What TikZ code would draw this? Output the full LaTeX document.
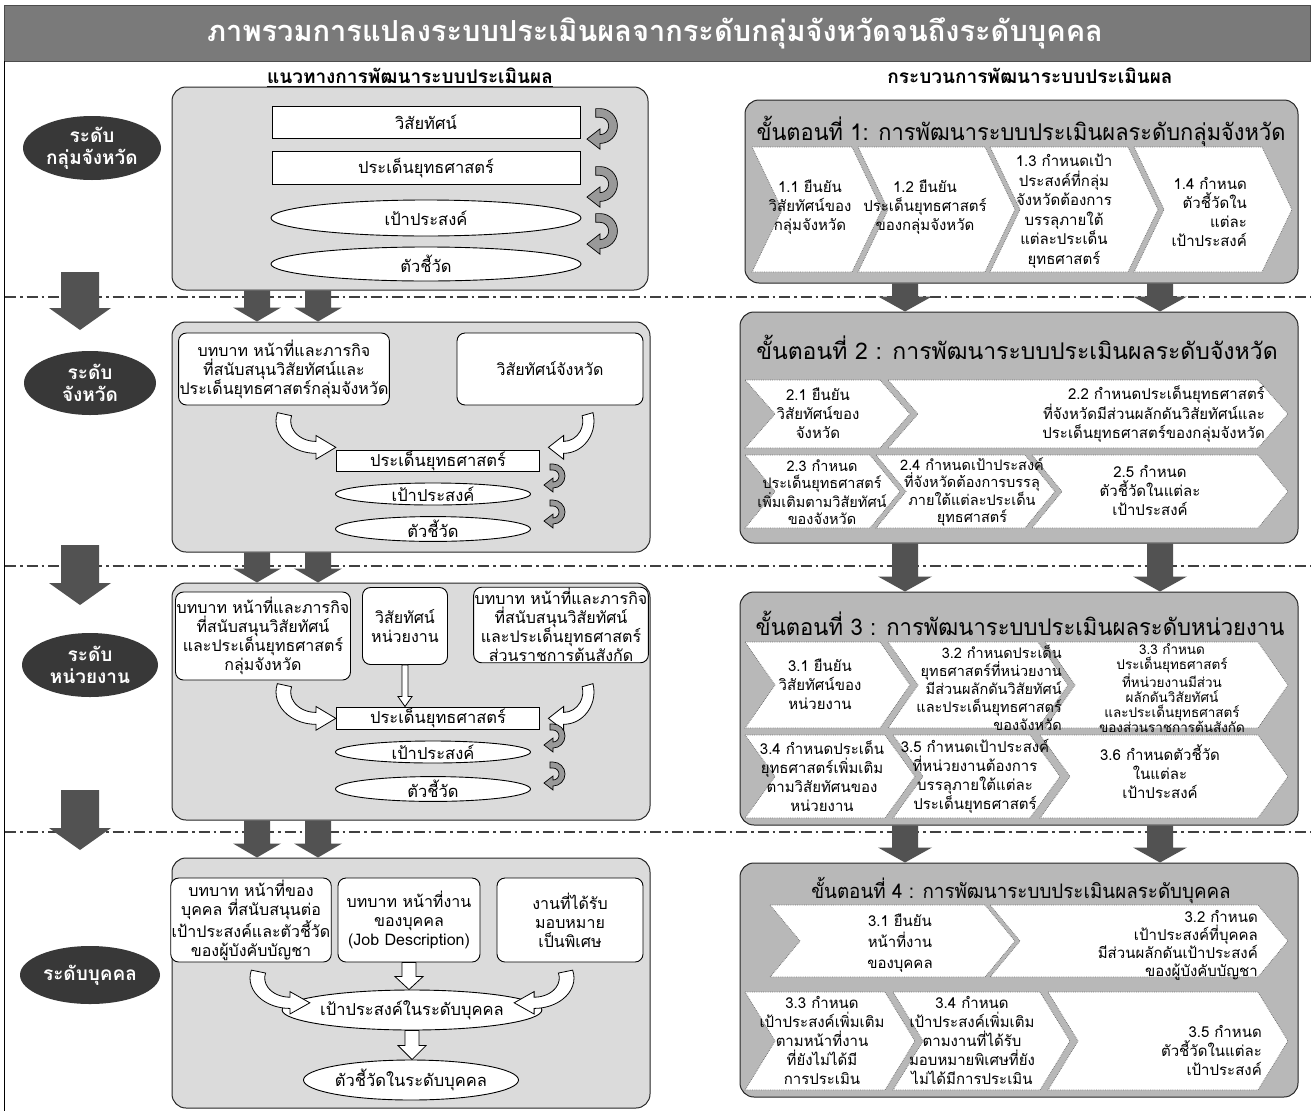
\documentclass[tikz,border=0pt]{standalone}
\usepackage{fontspec}
\setmainfont[Script=Thai]{Loma}
\usetikzlibrary{shapes.geometric,fit,calc}

\newcommand\vblock[6]{\path[#1] let \p1=(#2), \p2=(#3) in
  (\x1-#4,\y1) -- (\x1+#4,\y1) -- (\x1+#4,\y2+#6) -- (\x1+#5,\y2+#6) -- (\x1,\y2)
  -- (\x1-#5,\y2+#6) -- (\x1-#4,\y2+#6) -- cycle;}
\newcommand\chevron[5]{\draw[chev] (#1,#3) -- (#2,#3) -- ({#2+#5},{(#3+#4)/2}) -- (#2,#4)
  -- (#1,#4) -- ({#1+#5},{(#3+#4)/2}) -- cycle;}

\tikzset{
  lvl/.style={ellipse, fill=black!78, text=white, font=\bfseries\fontsize{19}{22}\selectfont,
    align=center, inner sep=0pt},
  lpanel/.style={draw=black!85, line width=1pt, rounded corners=14pt, fill=black!14, inner sep=0pt},
  rpanel/.style={draw=black!85, line width=1pt, rounded corners=14pt, fill=black!28, inner sep=0pt},
  tbox/.style={draw, line width=0.9pt, fill=white, rounded corners=8pt, align=center,
    inner sep=1pt, font=\fontsize{16}{19}\selectfont},
  srect/.style={draw, line width=0.9pt, fill=white, inner sep=0pt, font=\fontsize{16.5}{19}\selectfont},
  sell/.style={ellipse, draw, line width=0.9pt, fill=white, inner sep=0pt, font=\fontsize{16.5}{19}\selectfont},
  chev/.style={fill=white, draw=black!55, densely dotted, line width=0.8pt},
  ctext/.style={align=center, inner sep=0pt, font=\fontsize{15}{19}\selectfont},
  rtext/.style={align=right, inner sep=0pt, font=\fontsize{15}{19}\selectfont},
  stitle/.style={inner sep=0pt, font=\fontsize{23}{26}\selectfont},
  hdr/.style={inner sep=0pt, font=\bfseries\fontsize{19}{22}\selectfont},
  dashdot/.style={draw=black!75, line width=1.4pt, dash pattern=on 11pt off 4pt on 2.5pt off 4pt},
  gblock/.style={fill=black!68},
  wblock/.style={draw, line width=0.8pt, fill=white},
  hookpic/.pic={\filldraw[fill=black!40, draw=black, line width=0.7pt]
     (-3,-12) -- (0,-12) arc[start angle=-90, end angle=90, radius=12] -- (0,16) -- (-9,9)
     -- (0,2) -- (0,6) arc[start angle=90, end angle=-90, radius=6] -- (-3,-6) -- cycle;},
  bendpic/.pic={\filldraw[fill=white, draw=black, line width=0.8pt]
     (38,0) ++(195:38) arc[start angle=195, end angle=90, radius=38] -- ++(0,7) -- (57,31)
     -- (38,17) -- (38,24) arc[start angle=90, end angle=195, radius=24] -- cycle;}
}

\begin{document}
\begin{tikzpicture}[x=1pt,y=-1pt]
\useasboundingbox (0,0) rectangle (1311,1111);
\fill[white] (0,0) rectangle (1311,1111);

% title
\node[fill=black!52, draw=black!70, minimum width=1306pt, minimum height=56pt, inner sep=0pt] (tbar) at (657,33) {};
\node[text=white, inner sep=0pt, font=\bfseries\fontsize{29}{32}\selectfont] (title) at (655,33)
  {ภาพรวมการแปลงระบบประเมินผลจากระดับกลุ่มจังหวัดจนถึงระดับบุคคล};
\draw[line width=1pt] (4,61) -- (4,1111);

% headers
\node[hdr] (hl) at (410,76) {แนวทางการพัฒนาระบบประเมินผล};
\draw[line width=1pt] ([yshift=-3pt]hl.base west) -- ([yshift=-3pt]hl.base east);
\node[hdr] (hr) at (1030,76) {กระบวนการพัฒนาระบบประเมินผล};

% dash-dot separators
\draw[dashdot] (5,297) -- (1311,297);
\draw[dashdot] (5,566) -- (1311,566);
\draw[dashdot] (5,832) -- (1311,832);

% level ovals
\node[lvl, minimum width=138pt, minimum height=64pt] (lv1) at (92,148) {ระดับ\\กลุ่มจังหวัด};
\node[lvl, minimum width=132pt, minimum height=64pt] (lv2) at (90,383) {ระดับ\\จังหวัด};
\node[lvl, minimum width=136pt, minimum height=64pt] (lv3) at (90,665) {ระดับ\\หน่วยงาน};
\node[lvl, minimum width=140pt, minimum height=58pt] (lv4) at (90,975) {ระดับบุคคล};

% left big level arrows
\coordinate (ba1s) at (80,272); \coordinate (ba1e) at (80,330);
\coordinate (ba2s) at (80,545); \coordinate (ba2e) at (80,605);
\coordinate (ba3s) at (80,790); \coordinate (ba3e) at (80,850);
\vblock{gblock}{ba1s}{ba1e}{19pt}{31pt}{22pt}
\vblock{gblock}{ba2s}{ba2e}{19pt}{31pt}{22pt}
\vblock{gblock}{ba3s}{ba3e}{19pt}{31pt}{22pt}

% panels
\node[lpanel, fit={(172,87) (648,290)}] (L1) {};
\node[lpanel, fit={(172,322) (650,552)}] (L2) {};
\node[lpanel, fit={(172,583) (650,820)}] (L3) {};
\node[lpanel, fit={(172,858) (650,1108)}] (L4) {};
\node[rpanel, fit={(745,100) (1298,283)}] (R1) {};
\node[rpanel, fit={(740,312) (1298,543)}] (R2) {};
\node[rpanel, fit={(740,592) (1298,825)}] (R3) {};
\node[rpanel, fit={(740,863) (1298,1097)}] (R4) {};

% gray arrows between panels
\vblock{gblock}{257,0 |- L1.south}{257,0 |- L2.north}{13pt}{24pt}{14pt}
\vblock{gblock}{318,0 |- L1.south}{318,0 |- L2.north}{13pt}{24pt}{14pt}
\vblock{gblock}{257,0 |- L2.south}{257,0 |- L3.north}{13pt}{24pt}{14pt}
\vblock{gblock}{318,0 |- L2.south}{318,0 |- L3.north}{13pt}{24pt}{14pt}
\vblock{gblock}{257,0 |- L3.south}{257,0 |- L4.north}{13pt}{24pt}{14pt}
\vblock{gblock}{318,0 |- L3.south}{318,0 |- L4.north}{13pt}{24pt}{14pt}
\vblock{gblock}{905,0 |- R1.south}{905,0 |- R2.north}{13pt}{27pt}{15pt}
\vblock{gblock}{1160,0 |- R1.south}{1160,0 |- R2.north}{13pt}{27pt}{15pt}
\vblock{gblock}{905,0 |- R2.south}{905,0 |- R3.north}{13pt}{27pt}{15pt}
\vblock{gblock}{1160,0 |- R2.south}{1160,0 |- R3.north}{13pt}{27pt}{15pt}
\vblock{gblock}{905,0 |- R3.south}{905,0 |- R4.north}{13pt}{27pt}{15pt}
\vblock{gblock}{1160,0 |- R3.south}{1160,0 |- R4.north}{13pt}{27pt}{15pt}

% ---------- L1 ----------
\node[srect, minimum width=308pt, minimum height=32pt] (a1) at (426,122) {วิสัยทัศน์};
\node[srect, minimum width=308pt, minimum height=33pt] (a2) at (426,168) {ประเด็นยุทธศาสตร์};
\node[sell, minimum width=310pt, minimum height=36pt] (a3) at (426,218) {เป้าประสงค์};
\node[sell, minimum width=310pt, minimum height=34pt] (a4) at (426,264) {ตัวชี้วัด};
\pic[xscale=1.45, yscale=1.45] at (600,126) {hookpic};
\pic[xscale=1.45, yscale=1.45] at (600,184) {hookpic};
\pic[xscale=1.45, yscale=1.45] at (600,231) {hookpic};

% ---------- L2 ----------
\node[tbox, minimum width=200pt, minimum height=72pt] (b1) at (284,369)
  {บทบาท หน้าที่และภารกิจ\\ที่สนับสนุนวิสัยทัศน์และ\\ประเด็นยุทธศาสตร์กลุ่มจังหวัด};
\node[tbox, minimum width=186pt, minimum height=72pt] (b2) at (550,369) {วิสัยทัศน์จังหวัด};
\node[srect, minimum width=203pt, minimum height=21pt] (b3) at (438,461) {ประเด็นยุทธศาสตร์};
\node[sell, minimum width=195pt, minimum height=22pt] (b4) at (433,494) {เป้าประสงค์};
\node[sell, minimum width=195pt, minimum height=23pt] (b5) at (433,529) {ตัวชี้วัด};
\pic[xscale=1.05, yscale=0.85] at (276,421) {bendpic};
\pic[xscale=-0.8, yscale=0.85] at (594,421) {bendpic};
\pic[scale=1.0] at (553,476) {hookpic};
\pic[scale=1.0] at (553,512) {hookpic};

% ---------- L3 ----------
\node[tbox, minimum width=175pt, minimum height=88pt] (c1) at (263,636)
  {บทบาท หน้าที่และภารกิจ\\ที่สนับสนุนวิสัยทัศน์\\และประเด็นยุทธศาสตร์\\กลุ่มจังหวัด};
\node[tbox, minimum width=85pt, minimum height=77pt] (c2) at (405,626) {วิสัยทัศน์\\หน่วยงาน};
\node[tbox, minimum width=167pt, minimum height=72pt] (c3) at (561,625)
  {บทบาท หน้าที่และภารกิจ\\ที่สนับสนุนวิสัยทัศน์\\และประเด็นยุทธศาสตร์\\ส่วนราชการต้นสังกัด};
\node[srect, minimum width=203pt, minimum height=22pt] (c4) at (438,718) {ประเด็นยุทธศาสตร์};
\node[sell, minimum width=195pt, minimum height=22pt] (c5) at (433,752) {เป้าประสงค์};
\node[sell, minimum width=195pt, minimum height=24pt] (c6) at (433,789) {ตัวชี้วัด};
\vblock{wblock}{c2.south}{c2.south |- c4.north}{3pt}{7pt}{10pt}
\pic[xscale=1.05, yscale=0.85] at (276,692) {bendpic};
\pic[xscale=-0.8, yscale=0.85] at (594,692) {bendpic};
\pic[scale=1.0] at (553,736) {hookpic};
\pic[scale=1.0] at (553,774) {hookpic};

% ---------- L4 ----------
\node[tbox, minimum width=155pt, minimum height=84pt] (d1) at (251,920)
  {บทบาท หน้าที่ของ\\บุคคล ที่สนับสนุนต่อ\\เป้าประสงค์และตัวชี้วัด\\ของผู้บังคับบัญชา};
\node[tbox, minimum width=142pt, minimum height=84pt] (d2) at (409,920)
  {บทบาท หน้าที่งาน\\ของบุคคล\\(Job Description)};
\node[tbox, minimum width=146pt, minimum height=84pt] (d3) at (570,920) {งานที่ได้รับ\\มอบหมาย\\เป็นพิเศษ};
\node[sell, minimum width=190pt, minimum height=40pt] (d4) at (412,1010) {เป้าประสงค์ในระดับบุคคล};
\node[sell, minimum width=142pt, minimum height=40pt] (d5) at (411,1080) {ตัวชี้วัดในระดับบุคคล};
\vblock{wblock}{d2.south}{d2.south |- d4.north}{7pt}{14pt}{13pt}
\vblock{wblock}{d4.south}{d4.south |- d5.north}{7pt}{14pt}{14pt}
\pic[xscale=1.05, yscale=0.8] at (250,978) {bendpic};
\pic[xscale=-1.05, yscale=0.8] at (574,978) {bendpic};

% ---------- R1 ----------
\node[stitle] (r1t) at (1021,131) {\scalebox{0.95}[1]{ขั้นตอนที่ 1: การพัฒนาระบบประเมินผลระดับกลุ่มจังหวัด}};
\chevron{752}{852}{147}{272}{30}
\chevron{858}{985}{147}{272}{30}
\chevron{990}{1128}{147}{272}{30}
\chevron{1134}{1262}{147}{272}{30}
\node[ctext] (s11) at (810,207) {1.1 ยืนยัน\\วิสัยทัศน์ของ\\กลุ่มจังหวัด};
\node[ctext] (s12) at (925,207) {1.2 ยืนยัน\\ประเด็นยุทธศาสตร์\\ของกลุ่มจังหวัด};
\node[ctext, font=\fontsize{15}{19.5}\selectfont] (s13) at (1064,211) {1.3 กำหนดเป้า\\ประสงค์ที่กลุ่ม\\จังหวัดต้องการ\\บรรลุภายใต้\\แต่ละประเด็น\\ยุทธศาสตร์};
\node[rtext, anchor=east] (s14) at (1247,212) {1.4 กำหนด\\ตัวชี้วัดใน\\แต่ละ\\เป้าประสงค์};

% ---------- R2 ----------
\node[stitle] (r2t) at (1017,347) {ขั้นตอนที่ 2 : การพัฒนาระบบประเมินผลระดับจังหวัด};
\chevron{745}{880}{380}{448}{30}
\chevron{888}{1258}{380}{448}{30}
\chevron{745}{870}{455}{528}{30}
\chevron{876}{1025}{455}{528}{30}
\chevron{1032}{1258}{455}{528}{30}
\node[ctext] (s21) at (818,413) {2.1 ยืนยัน\\วิสัยทัศน์ของ\\จังหวัด};
\node[rtext, anchor=east] (s22) at (1265,414) {2.2 กำหนดประเด็นยุทธศาสตร์\\ที่จังหวัดมีส่วนผลักดันวิสัยทัศน์และ\\ประเด็นยุทธศาสตร์ของกลุ่มจังหวัด};
\node[ctext, font=\fontsize{14.5}{17}\selectfont] (s23) at (822,492) {2.3 กำหนด\\ประเด็นยุทธศาสตร์\\เพิ่มเติมตามวิสัยทัศน์\\ของจังหวัด};
\node[ctext, font=\fontsize{14.5}{17}\selectfont] (s24) at (972,492) {2.4 กำหนดเป้าประสงค์\\ที่จังหวัดต้องการบรรลุ\\ภายใต้แต่ละประเด็น\\ยุทธศาสตร์};
\node[ctext] (s25) at (1150,490) {2.5 กำหนด\\ตัวชี้วัดในแต่ละ\\เป้าประสงค์};

% ---------- R3 ----------
\node[stitle] (r3t) at (1020,623) {\scalebox{0.96}[1]{ขั้นตอนที่ 3 : การพัฒนาระบบประเมินผลระดับหน่วยงาน}};
\chevron{745}{880}{642}{728}{30}
\chevron{888}{1038}{642}{728}{30}
\chevron{1045}{1258}{642}{728}{30}
\chevron{745}{885}{735}{818}{30}
\chevron{893}{1030}{735}{818}{30}
\chevron{1040}{1258}{735}{818}{30}
\node[ctext] (s31) at (820,684) {3.1 ยืนยัน\\วิสัยทัศน์ของ\\หน่วยงาน};
\node[rtext, anchor=east, font=\fontsize{14.5}{18}\selectfont] (s32) at (1062,688) {3.2 กำหนดประเด็น\\ยุทธศาสตร์ที่หน่วยงาน\\มีส่วนผลักดันวิสัยทัศน์\\และประเด็นยุทธศาสตร์\\ของจังหวัด};
\node[ctext, font=\fontsize{13.5}{15}\selectfont] (s33) at (1172,688) {3.3 กำหนด\\ประเด็นยุทธศาสตร์\\ที่หน่วยงานมีส่วน\\ผลักดันวิสัยทัศน์\\และประเด็นยุทธศาสตร์\\ของส่วนราชการต้นสังกัด};
\node[ctext] (s34) at (822,776) {3.4 กำหนดประเด็น\\ยุทธศาสตร์เพิ่มเติม\\ตามวิสัยทัศนของ\\หน่วยงาน};
\node[ctext] (s35) at (975,776) {3.5 กำหนดเป้าประสงค์\\ที่หน่วยงานต้องการ\\บรรลุภายใต้แต่ละ\\ประเด็นยุทธศาสตร์};
\node[ctext] (s36) at (1160,772) {3.6 กำหนดตัวชี้วัด\\ในแต่ละ\\เป้าประสงค์};

% ---------- R4 ----------
\node[stitle, font=\fontsize{20}{22}\selectfont] (r4t) at (1021,890) {\scalebox{0.94}[1]{ขั้นตอนที่ 4 : การพัฒนาระบบประเมินผลระดับบุคคล}};
\chevron{770}{985}{905}{977}{30}
\chevron{990}{1258}{905}{977}{30}
\chevron{745}{885}{992}{1090}{30}
\chevron{893}{1040}{992}{1090}{30}
\chevron{1048}{1258}{992}{1090}{30}
\node[ctext, font=\fontsize{15}{21}\selectfont] (s41) at (900,943) {3.1 ยืนยัน\\หน้าที่งาน\\ของบุคคล};
\node[rtext, anchor=east, font=\fontsize{15}{18}\selectfont] (s42) at (1258,945) {3.2 กำหนด\\เป้าประสงค์ที่บุคคล\\มีส่วนผลักดันเป้าประสงค์\\ของผู้บังคับบัญชา};
\node[ctext] (s43) at (822,1040) {3.3 กำหนด\\เป้าประสงค์เพิ่มเติม\\ตามหน้าที่งาน\\ที่ยังไม่ได้มี\\การประเมิน};
\node[ctext] (s44) at (972,1040) {3.4 กำหนด\\เป้าประสงค์เพิ่มเติม\\ตามงานที่ได้รับ\\มอบหมายพิเศษที่ยัง\\ไม่ได้มีการประเมิน};
\node[rtext, anchor=east] (s45) at (1262,1050) {3.5 กำหนด\\ตัวชี้วัดในแต่ละ\\เป้าประสงค์};
\end{tikzpicture}
\end{document}
